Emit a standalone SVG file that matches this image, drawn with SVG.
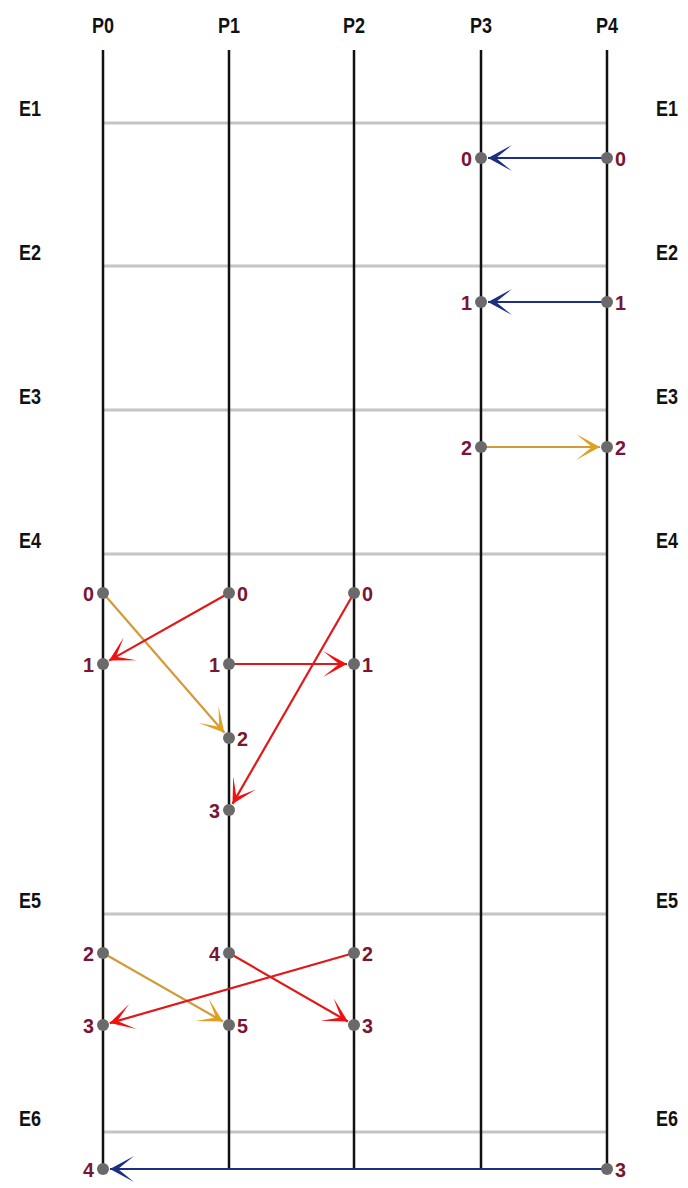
<svg xmlns="http://www.w3.org/2000/svg" width="688" height="1188" viewBox="0 0 688 1188">
<style>
.hdr{font-family:"Liberation Sans",Arial,sans-serif;font-weight:bold;font-size:22px;fill:#111;text-anchor:middle}
.ep{font-family:"Liberation Sans",Arial,sans-serif;font-weight:bold;font-size:22px;fill:#111;text-anchor:middle}
.proc{stroke:#111;stroke-width:2.5}
.epl{stroke:#c4c4c4;stroke-width:3}
.dot{fill:#6a6a6a}
.lb{font-family:"Liberation Sans",Arial,sans-serif;font-weight:bold;font-size:21px;fill:#7a1535}
.l{text-anchor:end}
.r{text-anchor:start}
.blue{stroke:#1c2f80;stroke-width:2.2;fill:none}
.org{stroke:#d39a3a;stroke-width:2.2;fill:none}
.red{stroke:#e01818;stroke-width:2.2;fill:none}
</style>
<defs>
<marker id="mb" viewBox="-26 -15 28 30" markerWidth="28" markerHeight="30" refX="0" refY="0" orient="auto" markerUnits="userSpaceOnUse"><path d="M0,0 L-24,-13 L-8,0 L-24,13 Z" fill="#1c2f80"/></marker>
<marker id="mo" viewBox="-26 -15 28 30" markerWidth="28" markerHeight="30" refX="0" refY="0" orient="auto" markerUnits="userSpaceOnUse"><path d="M0,0 L-24,-13 L-8,0 L-24,13 Z" fill="#e0a020"/></marker>
<marker id="mr" viewBox="-26 -15 28 30" markerWidth="28" markerHeight="30" refX="0" refY="0" orient="auto" markerUnits="userSpaceOnUse"><path d="M0,0 L-24,-13 L-8,0 L-24,13 Z" fill="#f01010"/></marker>
</defs>
<g id="headers">
<text class="hdr" x="103" y="33" textLength="22" lengthAdjust="spacingAndGlyphs">P0</text>
<text class="hdr" x="229" y="33" textLength="22" lengthAdjust="spacingAndGlyphs">P1</text>
<text class="hdr" x="354" y="33" textLength="22" lengthAdjust="spacingAndGlyphs">P2</text>
<text class="hdr" x="481" y="33" textLength="22" lengthAdjust="spacingAndGlyphs">P3</text>
<text class="hdr" x="607" y="33" textLength="22" lengthAdjust="spacingAndGlyphs">P4</text>
</g>
<g id="epochs">
<line class="epl" x1="103" y1="123" x2="607" y2="123"/>
<line class="epl" x1="103" y1="266" x2="607" y2="266"/>
<line class="epl" x1="103" y1="410" x2="607" y2="410"/>
<line class="epl" x1="103" y1="554" x2="607" y2="554"/>
<line class="epl" x1="103" y1="914" x2="607" y2="914"/>
<line class="epl" x1="103" y1="1132" x2="607" y2="1132"/>
<text class="ep" x="30" y="116" textLength="22" lengthAdjust="spacingAndGlyphs">E1</text><text class="ep" x="667" y="116" textLength="22" lengthAdjust="spacingAndGlyphs">E1</text>
<text class="ep" x="30" y="260" textLength="22" lengthAdjust="spacingAndGlyphs">E2</text><text class="ep" x="667" y="260" textLength="22" lengthAdjust="spacingAndGlyphs">E2</text>
<text class="ep" x="30" y="404" textLength="22" lengthAdjust="spacingAndGlyphs">E3</text><text class="ep" x="667" y="404" textLength="22" lengthAdjust="spacingAndGlyphs">E3</text>
<text class="ep" x="30" y="548" textLength="22" lengthAdjust="spacingAndGlyphs">E4</text><text class="ep" x="667" y="548" textLength="22" lengthAdjust="spacingAndGlyphs">E4</text>
<text class="ep" x="30" y="908" textLength="22" lengthAdjust="spacingAndGlyphs">E5</text><text class="ep" x="667" y="908" textLength="22" lengthAdjust="spacingAndGlyphs">E5</text>
<text class="ep" x="30" y="1126" textLength="22" lengthAdjust="spacingAndGlyphs">E6</text><text class="ep" x="667" y="1126" textLength="22" lengthAdjust="spacingAndGlyphs">E6</text>
</g>
<g id="processes">
<line class="proc" x1="103" y1="50" x2="103" y2="1169"/>
<line class="proc" x1="229" y1="50" x2="229" y2="1169"/>
<line class="proc" x1="354" y1="50" x2="354" y2="1169"/>
<line class="proc" x1="481" y1="50" x2="481" y2="1169"/>
<line class="proc" x1="607" y1="50" x2="607" y2="1169"/>
</g>
<g id="connectors">
<line class="blue" x1="607" y1="158" x2="488" y2="158" marker-end="url(#mb)"/>
<line class="blue" x1="607" y1="302" x2="488" y2="302" marker-end="url(#mb)"/>
<line class="org" x1="481" y1="447" x2="600" y2="447" marker-end="url(#mo)"/>
<line class="org" x1="103" y1="593" x2="224.4" y2="732.7" marker-end="url(#mo)"/>
<line class="red" x1="229" y1="593" x2="109.1" y2="660.6" marker-end="url(#mr)"/>
<line class="red" x1="229" y1="664" x2="347" y2="664" marker-end="url(#mr)"/>
<line class="red" x1="354" y1="593" x2="232.5" y2="803.9" marker-end="url(#mr)"/>
<line class="org" x1="103" y1="953" x2="222.9" y2="1021.5" marker-end="url(#mo)"/>
<line class="red" x1="354" y1="953" x2="109.7" y2="1023.1" marker-end="url(#mr)"/>
<line class="red" x1="229" y1="953" x2="347.9" y2="1021.5" marker-end="url(#mr)"/>
<line class="blue" x1="607" y1="1169" x2="110" y2="1169" marker-end="url(#mb)"/>
</g>
<g id="ev-p3-0"><circle class="dot" cx="481" cy="158" r="6"/><text class="lb l" x="472" y="166" textLength="11" lengthAdjust="spacingAndGlyphs">0</text></g>
<g id="ev-p4-0"><circle class="dot" cx="607" cy="158" r="6"/><text class="lb r" x="615" y="166" textLength="11" lengthAdjust="spacingAndGlyphs">0</text></g>
<g id="ev-p3-1"><circle class="dot" cx="481" cy="302" r="6"/><text class="lb l" x="472" y="310" textLength="11" lengthAdjust="spacingAndGlyphs">1</text></g>
<g id="ev-p4-1"><circle class="dot" cx="607" cy="302" r="6"/><text class="lb r" x="615" y="310" textLength="11" lengthAdjust="spacingAndGlyphs">1</text></g>
<g id="ev-p3-2"><circle class="dot" cx="481" cy="447" r="6"/><text class="lb l" x="472" y="455" textLength="11" lengthAdjust="spacingAndGlyphs">2</text></g>
<g id="ev-p4-2"><circle class="dot" cx="607" cy="447" r="6"/><text class="lb r" x="615" y="455" textLength="11" lengthAdjust="spacingAndGlyphs">2</text></g>
<g id="ev-p0-0"><circle class="dot" cx="103" cy="593" r="6"/><text class="lb l" x="94" y="601" textLength="11" lengthAdjust="spacingAndGlyphs">0</text></g>
<g id="ev-p1-0"><circle class="dot" cx="229" cy="593" r="6"/><text class="lb r" x="237" y="601" textLength="11" lengthAdjust="spacingAndGlyphs">0</text></g>
<g id="ev-p2-0"><circle class="dot" cx="354" cy="593" r="6"/><text class="lb r" x="362" y="601" textLength="11" lengthAdjust="spacingAndGlyphs">0</text></g>
<g id="ev-p0-1"><circle class="dot" cx="103" cy="664" r="6"/><text class="lb l" x="94" y="672" textLength="11" lengthAdjust="spacingAndGlyphs">1</text></g>
<g id="ev-p1-1"><circle class="dot" cx="229" cy="664" r="6"/><text class="lb l" x="220" y="672" textLength="11" lengthAdjust="spacingAndGlyphs">1</text></g>
<g id="ev-p2-1"><circle class="dot" cx="354" cy="664" r="6"/><text class="lb r" x="362" y="672" textLength="11" lengthAdjust="spacingAndGlyphs">1</text></g>
<g id="ev-p1-2"><circle class="dot" cx="229" cy="738" r="6"/><text class="lb r" x="237" y="746" textLength="11" lengthAdjust="spacingAndGlyphs">2</text></g>
<g id="ev-p1-3"><circle class="dot" cx="229" cy="810" r="6"/><text class="lb l" x="220" y="818" textLength="11" lengthAdjust="spacingAndGlyphs">3</text></g>
<g id="ev-p0-2"><circle class="dot" cx="103" cy="953" r="6"/><text class="lb l" x="94" y="961" textLength="11" lengthAdjust="spacingAndGlyphs">2</text></g>
<g id="ev-p1-4"><circle class="dot" cx="229" cy="953" r="6"/><text class="lb l" x="220" y="961" textLength="11" lengthAdjust="spacingAndGlyphs">4</text></g>
<g id="ev-p2-2"><circle class="dot" cx="354" cy="953" r="6"/><text class="lb r" x="362" y="961" textLength="11" lengthAdjust="spacingAndGlyphs">2</text></g>
<g id="ev-p0-3"><circle class="dot" cx="103" cy="1025" r="6"/><text class="lb l" x="94" y="1033" textLength="11" lengthAdjust="spacingAndGlyphs">3</text></g>
<g id="ev-p1-5"><circle class="dot" cx="229" cy="1025" r="6"/><text class="lb r" x="237" y="1033" textLength="11" lengthAdjust="spacingAndGlyphs">5</text></g>
<g id="ev-p2-3"><circle class="dot" cx="354" cy="1025" r="6"/><text class="lb r" x="362" y="1033" textLength="11" lengthAdjust="spacingAndGlyphs">3</text></g>
<g id="ev-p0-4"><circle class="dot" cx="103" cy="1169" r="6"/><text class="lb l" x="94" y="1177" textLength="11" lengthAdjust="spacingAndGlyphs">4</text></g>
<g id="ev-p4-3"><circle class="dot" cx="607" cy="1169" r="6"/><text class="lb r" x="615" y="1177" textLength="11" lengthAdjust="spacingAndGlyphs">3</text></g>
</svg>
